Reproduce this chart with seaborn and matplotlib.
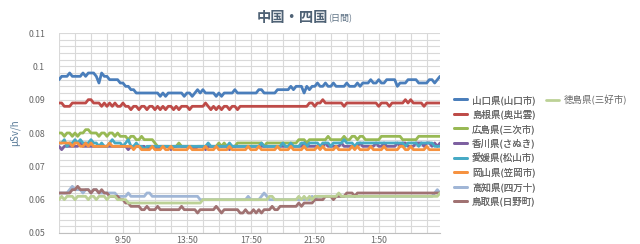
import numpy as np
import pandas as pd
import matplotlib
matplotlib.use("Agg")
import matplotlib.pyplot as plt
import seaborn as sns
from matplotlib.lines import Line2D

sns.set_theme(style="white")
plt.rcParams['font.family'] = ['Noto Sans CJK JP', 'DejaVu Sans']

# values in nSv/h (0.001 μSv/h), 10-minute readings from 5:50
yamaguchi = [
    96,97,97,97,98,97,97,97,97,98,97,98,98,98,97,95,98,97,97,96,96,96,96,95,
    95,94,94,93,93,92,92,92,92,92,92,92,92,92,91,92,91,92,92,92,92,92,92,91,
    92,92,91,92,93,92,93,92,92,92,92,91,92,91,92,92,92,92,93,92,92,92,92,92,
    92,92,92,93,93,92,92,92,92,92,93,93,93,93,93,94,93,94,94,94,92,94,93,94,
    94,95,94,94,95,94,94,95,94,94,94,94,95,94,94,94,95,94,95,95,95,96,95,95,
    96,95,95,96,96,96,96,94,95,95,95,96,96,96,96,95,95,95,95,96,96,95,96,97]
shimane = [
    89,89,88,88,88,89,89,89,89,89,89,90,90,89,89,89,88,89,88,89,88,89,88,88,
    89,88,88,87,88,88,87,88,88,87,88,88,87,88,87,88,87,88,88,87,88,87,88,88,
    88,87,88,88,88,88,88,89,88,87,88,87,88,87,88,88,87,88,88,87,88,88,88,88,
    88,88,88,88,88,88,88,88,88,88,88,88,88,88,88,88,88,88,88,88,88,88,89,89,
    88,89,89,90,89,89,89,89,89,89,89,88,89,89,89,89,89,89,89,89,89,89,89,89,
    88,89,89,89,88,89,89,89,89,89,90,89,90,89,89,89,89,88,89,89,89,89,89,89]
hiroshima = [
    80,80,79,80,80,79,80,79,80,80,81,81,80,80,80,79,80,80,79,80,80,79,80,79,
    79,79,78,79,79,78,78,79,78,78,78,78,77,76,76,76,76,76,76,76,76,77,76,76,
    76,76,76,76,76,76,76,76,76,76,76,76,77,76,77,76,76,76,76,77,77,77,77,77,
    77,77,77,77,77,76,77,77,77,77,77,77,77,77,77,77,77,77,78,78,78,77,78,78,
    78,78,78,78,78,79,78,78,78,78,78,79,78,78,79,79,78,79,79,78,78,78,78,78,
    78,79,79,79,79,79,79,79,79,78,78,78,78,78,78,79,79,79,79,79,79,79,79,79]
kagawa = [
    76,75,76,76,76,76,76,76,77,76,76,76,76,76,76,76,76,76,76,76,76,76,76,76,
    76,76,75,76,76,76,76,76,76,75,76,76,76,75,76,76,76,76,75,76,76,76,76,76,
    76,76,76,75,76,76,76,75,76,76,76,76,76,76,76,76,75,76,76,76,76,76,76,76,
    76,76,76,76,76,76,76,76,76,76,76,76,76,76,76,76,76,76,76,76,77,76,76,76,
    76,76,76,76,77,76,76,76,76,76,77,76,76,76,76,76,76,77,76,76,76,76,76,77,
    76,76,77,76,76,76,76,77,76,77,77,76,76,76,77,77,77,76,77,77,76,77,76,77]
ehime = [
    77,77,78,76,77,77,78,77,78,77,77,77,78,77,77,76,77,76,76,77,78,77,77,77,
    76,77,78,76,76,77,76,76,75,76,76,76,76,76,76,76,76,76,76,76,76,76,76,76,
    76,76,76,76,76,76,76,76,77,76,76,76,76,76,76,76,77,76,76,76,76,76,76,76,
    76,76,76,76,77,76,76,76,76,76,76,76,77,76,76,77,76,76,76,77,77,76,77,77,
    77,77,76,77,77,77,76,77,77,77,77,78,77,77,77,76,77,77,77,77,77,77,77,77,
    77,77,77,77,77,77,77,77,77,77,76,77,77,77,77,76,77,77,77,77,77,76,76,76]
okayama = [
    77,77,77,77,77,76,77,77,76,76,77,76,77,76,76,76,76,76,76,77,76,76,76,76,
    76,76,76,76,75,76,76,75,75,75,75,76,75,75,75,76,75,75,76,75,75,75,75,75,
    75,76,75,75,75,75,75,76,75,75,75,76,75,75,75,75,76,75,75,75,75,75,75,76,
    75,75,75,76,75,75,75,75,75,75,76,75,75,75,75,76,75,75,75,75,76,75,75,75,
    75,76,75,76,75,75,75,75,76,75,75,75,75,75,76,75,76,75,75,75,75,76,75,75,
    75,75,76,75,75,75,75,75,76,76,75,75,76,75,75,75,75,75,76,75,75,75,75,75]
kochi = [
    62,62,62,62,63,64,63,63,63,62,63,63,62,63,63,62,62,62,62,62,62,62,61,61,
    61,61,62,61,61,61,61,61,61,62,62,61,61,61,61,61,61,61,61,61,61,61,61,61,
    61,61,61,61,61,60,60,60,60,60,60,60,60,60,60,60,60,60,60,60,60,60,60,61,
    60,60,60,60,61,62,61,60,60,60,60,60,60,60,60,60,60,60,60,60,60,60,60,61,
    60,61,61,61,61,61,61,61,61,61,61,61,61,61,61,61,61,61,61,61,61,61,61,61,
    61,61,61,61,61,61,61,61,61,61,61,61,61,61,61,61,61,61,61,61,61,62,63,62]
tottori = [
    62,62,62,62,62,63,63,64,63,63,63,63,62,63,63,62,63,62,62,61,61,61,61,60,
    60,59,59,58,58,58,58,57,57,58,57,57,57,58,57,57,57,57,57,57,57,57,58,57,
    57,57,57,57,56,57,57,57,57,57,57,58,57,56,57,57,57,57,57,57,56,56,57,56,
    56,57,56,57,56,57,57,57,58,57,57,58,58,58,58,58,58,58,59,58,59,59,59,59,
    60,60,60,60,61,61,61,60,61,61,61,61,62,62,62,61,62,62,62,62,62,62,62,62,
    62,62,62,62,62,62,62,62,62,62,62,62,62,62,62,62,62,62,62,62,62,62,62,62]
tokushima = [
    60,61,60,61,61,61,60,61,61,61,61,60,61,61,60,61,61,61,60,61,61,61,60,60,
    60,60,59,59,59,59,59,59,59,59,59,59,59,59,59,59,59,59,59,59,59,59,59,59,
    59,59,59,59,59,59,60,60,60,60,60,60,60,60,60,60,60,60,60,60,60,60,60,60,
    60,60,60,60,60,60,60,61,61,60,60,60,60,60,60,60,60,60,61,60,61,60,61,60,
    61,61,61,61,61,61,61,61,61,62,61,61,61,61,61,61,61,61,61,61,61,61,61,61,
    61,61,61,61,61,61,61,61,61,61,61,61,61,61,61,61,61,61,61,61,61,61,61,62]

series_names = ['山口県(山口市)', '島根県(奥出雲)', '広島県(三次市)', '香川県(さぬき)',
                '愛媛県(松山市)', '岡山県(笠岡市)', '高知県(四万十)', '鳥取県(日野町)',
                '徳島県(三好市)']
series_values = [yamaguchi, shimane, hiroshima, kagawa, ehime, okayama, kochi, tottori, tokushima]
colors = ['#4a7ebb', '#be4b48', '#98b954', '#7d60a0', '#46aac5', '#f69240',
          '#a0b6d6', '#a07272', '#bcd196']
tick_labels = ['9:50', '13:50', '17:50', '21:50', '1:50']
tick_positions = [24, 48, 72, 96, 120]
y_tick_values = [0.05, 0.06, 0.07, 0.08, 0.09, 0.10, 0.11]
y_tick_labels = ['0.05', '0.06', '0.07', '0.08', '0.09', '0.1', '0.11']

rows = []
for name, vals in zip(series_names, series_values):
    for i, v in enumerate(vals):
        rows.append({'idx': i, 'value': v / 1000.0, 'pref': name})
df = pd.DataFrame(rows)

fig = plt.figure(figsize=(6.4, 2.44), dpi=100)
ax = fig.add_axes([59/640, 1 - 233/244, (440 - 59)/640, (233 - 33)/244])

sns.lineplot(data=df, x='idx', y='value', hue='pref', hue_order=series_names,
             palette=colors, linewidth=2.0, legend=False, ax=ax, zorder=3)

ax.set_xlim(0, 143)
ax.set_ylim(0.05, 0.11)
ax.set_xticks(tick_positions)
ax.set_xticklabels(tick_labels)
ax.set_xticks(list(range(0, 144, 6)), minor=True)
ax.set_yticks(y_tick_values)
ax.set_yticklabels(y_tick_labels)
ax.set_yticks(list(np.arange(0.05, 0.1101, 0.002)), minor=True)
ax.grid(True, which='both', color='#d9d9d9', linewidth=0.8, zorder=0)
ax.set_axisbelow(True)
for s in ['top', 'right', 'left']:
    ax.spines[s].set_visible(False)
ax.spines['bottom'].set_color('#bfbfbf')
ax.spines['bottom'].set_linewidth(0.8)
ax.tick_params(axis='y', which='both', length=0, labelsize=6.3, labelcolor='#666666', pad=10)
ax.tick_params(axis='x', which='both', length=0, labelsize=6.3, labelcolor='#666666', pad=2)
ax.set_xlabel('')
ax.set_ylabel('μSv/h', fontsize=7, color='#5b7c99', labelpad=6)

fig.text(257/640, 1 - 18/244, '中国・四国', fontsize=10.3, fontweight='bold',
         color='#4f6275', ha='left', va='center')
fig.text(328/640, 1 - 19/244, '(日間)', fontsize=6.5, color='#5f7285',
         ha='left', va='center')

handles = [Line2D([0], [0], color=c, linewidth=2) for c in colors]
leg1 = fig.legend(handles[:8], series_names[:8], loc='upper left',
                  bbox_to_anchor=(454/640, 1 - 95/244), frameon=False,
                  fontsize=6.8, handlelength=1.4, handletextpad=0.5,
                  labelspacing=0.5, borderaxespad=0, borderpad=0)
for t in leg1.get_texts():
    t.set_color('#666666')
leg2 = fig.legend(handles[8:], series_names[8:], loc='upper left',
                  bbox_to_anchor=(546/640, 1 - 95/244), frameon=False,
                  fontsize=6.8, handlelength=1.4, handletextpad=0.5,
                  borderaxespad=0, borderpad=0)
for t in leg2.get_texts():
    t.set_color('#666666')
fig.add_artist(leg1)

fig.savefig('out.png', dpi=100)
